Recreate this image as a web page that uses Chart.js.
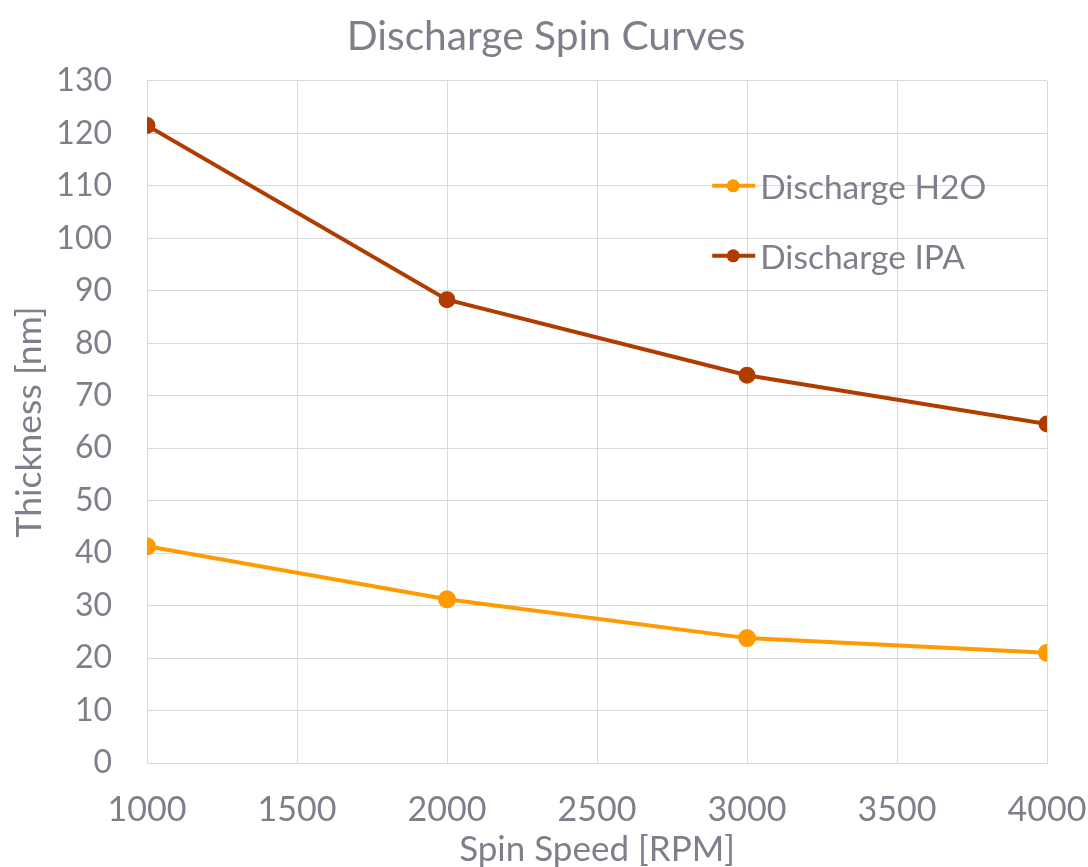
<!DOCTYPE html>
<html lang="en">
<head>
<meta charset="UTF-8">
<script src="https://cdn.jsdelivr.net/npm/chart.js"></script>
<title>Discharge Spin Curves</title>
<style>
  html, body { margin: 0; padding: 0; background: #fff; }
  .wrap { width: 1088px; height: 867px; }
</style>
</head>
<body>
<div class="wrap"><canvas id="grafico"></canvas></div>
<script>
// dados
const rpm = [1000, 2000, 3000, 4000];
const h2o = [41.3, 31.2, 23.8, 21.0];
const ipa = [121.5, 88.3, 73.9, 64.6];
const seriesNames = ['Discharge H2O', 'Discharge IPA'];

const cinza = '#7f7f8b';
const fonte = 'Lato, "Open Sans", sans-serif';

// legenda desenhada dentro da area do grafico (canto superior direito)
const legendaInterna = {
  id: 'legendaInterna',
  afterDraw(chart) {
    const ctx = chart.ctx;
    const area = chart.chartArea;
    const x0 = area.left + (area.right - area.left) * 0.628;
    chart.data.datasets.forEach(function (ds, i) {
      const y = area.top + 105 + i * 70;
      ctx.save();
      ctx.strokeStyle = ds.borderColor;
      ctx.lineWidth = 4;
      ctx.beginPath();
      ctx.moveTo(x0, y);
      ctx.lineTo(x0 + 43, y);
      ctx.stroke();
      ctx.fillStyle = ds.borderColor;
      ctx.beginPath();
      ctx.arc(x0 + 21, y, 6.5, 0, Math.PI * 2);
      ctx.fill();
      ctx.fillStyle = cinza;
      ctx.font = '33.5px ' + fonte;
      ctx.textBaseline = 'middle';
      ctx.fillText(ds.label, x0 + 48, y + 2);
      ctx.restore();
    });
  }
};

const dados = {
  datasets: [
    {
      label: seriesNames[0],
      data: rpm.map((x, i) => ({ x: x, y: h2o[i] })),
      borderColor: '#ff9a00',
      backgroundColor: '#ff9a00',
      borderWidth: 4,
      pointRadius: 7,
      pointHoverRadius: 7,
      tension: 0
    },
    {
      label: seriesNames[1],
      data: rpm.map((x, i) => ({ x: x, y: ipa[i] })),
      borderColor: '#b03c00',
      backgroundColor: '#b03c00',
      borderWidth: 4,
      pointRadius: 6.5,
      pointHoverRadius: 6.5,
      tension: 0
    }
  ]
};

new Chart(document.getElementById('grafico'), {
  type: 'line',
  data: dados,
  plugins: [legendaInterna],
  options: {
    responsive: true,
    maintainAspectRatio: false,
    animation: false,
    layout: { padding: { left: 4, right: 0, top: 10, bottom: 0 } },
    plugins: {
      legend: { display: false },
      tooltip: { enabled: false },
      title: {
        display: true,
        text: 'Discharge Spin Curves',
        color: cinza,
        font: { family: fonte, size: 40.7, weight: 'normal' },
        padding: { top: 2, bottom: 20 }
      }
    },
    scales: {
      x: {
        type: 'linear',
        min: 1000,
        max: 4000,
        ticks: {
          stepSize: 500,
          color: cinza,
          font: { family: fonte, size: 34 },
          padding: 27,
          maxRotation: 0,
          callback: v => v
        },
        grid: { color: '#d9d9d9', lineWidth: 1, drawTicks: false },
        border: { color: '#d9d9d9' },
        title: {
          display: true,
          text: 'Spin Speed [RPM]',
          color: cinza,
          font: { family: fonte, size: 35, lineHeight: 1 },
          padding: { top: 3, bottom: 0 }
        },
        afterFit: function (scale) {
          scale.height = 104;
          scale.paddingRight = 41;
          scale.paddingLeft = 0;
        }
      },
      y: {
        min: 0,
        max: 130,
        ticks: {
          stepSize: 10,
          color: cinza,
          font: { family: fonte, size: 32 },
          padding: 35,
          callback: v => v
        },
        grid: { color: '#d9d9d9', lineWidth: 1, drawTicks: false },
        border: { color: '#d9d9d9' },
        title: {
          display: true,
          text: 'Thickness [nm]',
          color: cinza,
          font: { family: fonte, size: 35.5 },
          padding: { top: 4, bottom: 10 }
        },
        afterFit: function (scale) {
          scale.width = 143;
        }
      }
    }
  }
});
</script>
</body>
</html>
